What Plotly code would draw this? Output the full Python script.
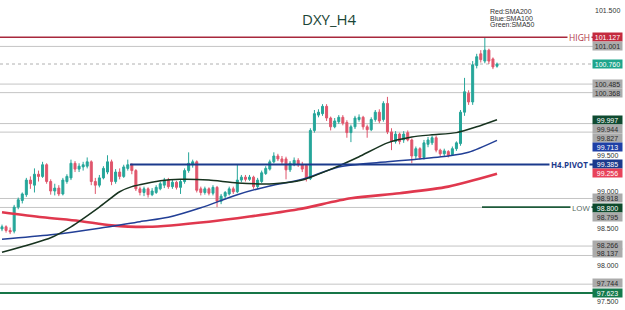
import plotly.graph_objects as go

# ---------------- data ----------------
opens = [98.50, 98.53, 98.48, 98.47, 98.80, 98.89, 98.97, 99.17, 99.10, 99.25,
         99.22, 99.38, 99.15, 99.02, 99.06, 98.98, 99.15, 99.20, 99.40, 99.32,
         99.35, 99.36, 99.42, 99.15, 99.10, 99.20, 99.28, 99.42, 99.15, 99.28,
         99.22, 99.33, 99.38, 99.30, 99.05, 99.00, 99.05, 98.97, 99.00, 99.05,
         99.10, 99.17, 99.08, 99.14, 99.07, 99.15, 99.30, 99.38, 99.42, 99.05,
         99.00, 99.05, 98.99, 99.07, 98.88, 98.95, 98.98, 99.05, 99.01, 99.17,
         99.21, 99.18, 99.21, 99.08, 99.15, 99.26, 99.32, 99.42, 99.50, 99.46,
         99.46, 99.31, 99.38, 99.44, 99.38, 99.37, 99.19, 99.85, 100.06, 100.08,
         100.18, 100.02, 99.90, 99.97, 100.03, 99.96, 99.82, 99.90, 100.00, 100.03,
         99.90, 99.86, 100.00, 100.10, 100.00, 100.22, 99.83, 99.70, 99.80, 99.72,
         99.82, 99.72, 99.50, 99.60, 99.48, 99.66, 99.68, 99.75, 99.58, 99.53,
         99.56, 99.52, 99.60, 99.67, 100.10, 100.36, 100.24, 100.74, 100.90, 100.80,
         100.95, 100.83, 100.73]
highs = [98.56, 98.55, 98.52, 98.83, 98.93, 99.00, 99.20, 99.22, 99.33, 99.30,
         99.42, 99.40, 99.18, 99.12, 99.10, 99.20, 99.25, 99.45, 99.43, 99.40,
         99.42, 99.48, 99.44, 99.20, 99.24, 99.36, 99.51, 99.45, 99.32, 99.33,
         99.38, 99.45, 99.40, 99.32, 99.08, 99.08, 99.07, 99.06, 99.10, 99.15,
         99.20, 99.20, 99.17, 99.16, 99.18, 99.33, 99.55, 99.45, 99.44, 99.08,
         99.08, 99.07, 99.10, 99.09, 98.98, 99.02, 99.08, 99.08, 99.38, 99.24,
         99.24, 99.24, 99.23, 99.20, 99.30, 99.36, 99.45, 99.55, 99.53, 99.50,
         99.49, 99.43, 99.48, 99.47, 99.42, 99.39, 99.88, 100.13, 100.14, 100.21,
         100.21, 100.04, 100.02, 100.06, 100.06, 99.99, 99.93, 100.05, 100.07, 100.05,
         99.93, 100.03, 100.13, 100.14, 100.25, 100.31, 99.88, 99.84, 99.82, 99.84,
         99.85, 99.74, 99.63, 99.62, 99.72, 99.76, 99.78, 99.78, 99.60, 99.60,
         99.58, 99.63, 99.70, 100.13, 100.57, 100.40, 100.80, 100.90, 100.95, 101.127,
         100.97, 100.85, 100.78]
lows = [98.47, 98.45, 98.43, 98.44, 98.77, 98.85, 98.94, 99.05, 99.00, 99.15,
        99.20, 99.12, 98.97, 98.96, 98.95, 98.96, 99.12, 99.17, 99.28, 99.28,
        99.30, 99.33, 99.10, 98.98, 99.07, 99.18, 99.25, 99.10, 99.12, 99.18,
        99.20, 99.30, 99.25, 99.02, 98.96, 98.95, 98.93, 98.95, 98.98, 99.03,
        99.06, 99.05, 99.05, 99.04, 98.98, 99.12, 99.27, 99.34, 99.00, 98.96,
        98.97, 98.96, 98.96, 98.80, 98.84, 98.92, 98.96, 98.98, 98.99, 99.14,
        99.15, 99.16, 99.05, 99.05, 99.13, 99.24, 99.30, 99.40, 99.43, 99.39,
        99.18, 99.28, 99.36, 99.35, 99.28, 99.15, 99.17, 99.82, 100.03, 100.05,
        99.98, 99.85, 99.88, 99.94, 99.92, 99.75, 99.69, 99.87, 99.97, 99.86,
        99.75, 99.84, 99.97, 99.95, 99.97, 99.80, 99.58, 99.67, 99.66, 99.68,
        99.70, 99.40, 99.46, 99.45, 99.45, 99.62, 99.65, 99.55, 99.50, 99.50,
        99.48, 99.50, 99.57, 99.64, 100.05, 100.20, 100.20, 100.70, 100.78, 100.77,
        100.76, 100.69, 100.71]
closes = [98.53, 98.48, 98.46, 98.80, 98.90, 98.98, 99.17, 99.12, 99.25, 99.22,
          99.38, 99.15, 99.02, 99.06, 98.98, 99.17, 99.22, 99.40, 99.32, 99.36,
          99.38, 99.42, 99.15, 99.10, 99.20, 99.33, 99.42, 99.15, 99.28, 99.22,
          99.35, 99.38, 99.30, 99.05, 99.00, 99.05, 98.97, 99.02, 99.07, 99.12,
          99.17, 99.08, 99.14, 99.07, 99.15, 99.30, 99.40, 99.42, 99.03, 99.00,
          99.05, 98.99, 99.07, 98.88, 98.95, 99.00, 99.05, 99.01, 99.17, 99.21,
          99.18, 99.21, 99.08, 99.17, 99.27, 99.33, 99.42, 99.50, 99.46, 99.42,
          99.31, 99.40, 99.44, 99.38, 99.32, 99.19, 99.85, 100.08, 100.10, 100.18,
          100.02, 99.90, 99.98, 100.03, 99.95, 99.82, 99.90, 100.02, 100.03, 99.90,
          99.86, 100.00, 100.10, 99.98, 100.22, 99.83, 99.70, 99.80, 99.70, 99.80,
          99.72, 99.50, 99.60, 99.48, 99.68, 99.72, 99.75, 99.58, 99.53, 99.57,
          99.51, 99.60, 99.68, 100.10, 100.38, 100.24, 100.75, 100.86, 100.82, 100.95,
          100.80, 100.72, 100.76]

sma50_x = [0, 12, 17, 24, 29, 32, 39, 44, 51, 58, 67, 74, 82, 88, 95, 101, 106, 112, 117, 122]
sma50_y = [98.18, 98.38, 98.53, 98.80, 99.01, 99.08, 99.16, 99.18, 99.17, 99.13, 99.12,
           99.17, 99.34, 99.49, 99.68, 99.76, 99.79, 99.82, 99.90, 99.997]
sma100_x = [0, 12, 24, 34, 41, 49, 58, 66, 74, 83, 95, 101, 110, 115, 122]
sma100_y = [98.36, 98.42, 98.51, 98.60, 98.66, 98.79, 98.97, 99.09, 99.18, 99.35, 99.42,
            99.45, 99.50, 99.55, 99.713]
sma200_x = [0, 10, 19, 27, 36, 51, 61, 73, 86, 98, 110, 122]
sma200_y = [98.73, 98.66, 98.61, 98.55, 98.53, 98.60, 98.67, 98.77, 98.92, 98.99,
            99.08, 99.256]

level_values = [101.001, 100.485, 100.368, 99.944, 99.827, 98.918, 98.795, 98.266, 98.137, 97.744]
high_level = 101.127
low_level = 98.800
pivot_level = 99.385
last_price = 100.760
bottom_level = 97.623
tick_values = [101.500, 99.500, 99.000, 98.500, 98.000, 97.500]

title_text = "DXY_H4"
legend_lines = ["Red:SMA200", "Blue:SMA100", "Green:SMA50"]

# ---------------- figure ----------------
W, H = 625, 310
fig = go.Figure()

fig.add_trace(go.Candlestick(
    x=list(range(len(closes))), open=opens, high=highs, low=lows, close=closes,
    increasing=dict(line=dict(color="#26a69a", width=1), fillcolor="#26a69a"),
    decreasing=dict(line=dict(color="#e0566c", width=1), fillcolor="#e0566c"),
    whiskerwidth=0, showlegend=False, hoverinfo="skip"))

fig.add_trace(go.Scatter(x=sma200_x, y=sma200_y, mode="lines",
                         line=dict(color="#e0384e", width=2.6, shape="spline", smoothing=0.8),
                         showlegend=False))
fig.add_trace(go.Scatter(x=sma100_x, y=sma100_y, mode="lines",
                         line=dict(color="#223f96", width=1.5, shape="spline", smoothing=0.8),
                         showlegend=False))
fig.add_trace(go.Scatter(x=sma50_x, y=sma50_y, mode="lines",
                         line=dict(color="#17331f", width=1.5, shape="spline", smoothing=0.6),
                         showlegend=False))

END = 593 / W  # lines run up to the label column

shapes = []
for v in level_values:
    shapes.append(dict(type="line", xref="paper", yref="y", x0=0, x1=END, y0=v, y1=v,
                       line=dict(color="#c4c4c4", width=1), layer="below"))
shapes.append(dict(type="line", xref="paper", yref="y", x0=0, x1=END, y0=last_price, y1=last_price,
                   line=dict(color="#b0b0b0", width=1, dash="dot"), layer="below"))
shapes.append(dict(type="line", xref="paper", yref="y", x0=0, x1=END, y0=high_level, y1=high_level,
                   line=dict(color="#a8283c", width=1.6)))
shapes.append(dict(type="line", xref="paper", yref="y", x0=130 / W, x1=END, y0=pivot_level, y1=pivot_level,
                   line=dict(color="#1b3a8c", width=2)))
shapes.append(dict(type="line", xref="paper", yref="y", x0=482 / W, x1=END, y0=low_level, y1=low_level,
                   line=dict(color="#1e5a3a", width=1.6)))
shapes.append(dict(type="line", xref="paper", yref="y", x0=0, x1=END, y0=bottom_level, y1=bottom_level,
                   line=dict(color="#177547", width=2)))

annotations = []
# line labels with white background
annotations.append(dict(xref="paper", yref="y", x=579.5 / W, y=high_level, text="HIGH", showarrow=False,
                        font=dict(family="Open Sans", size=8.5, color="#b03246"), bgcolor="white",
                        borderpad=1, xanchor="center", yanchor="middle"))
annotations.append(dict(xref="paper", yref="y", x=569 / W, y=pivot_level, text="<b>H4.PIVOT</b>", showarrow=False,
                        font=dict(family="Open Sans", size=8, color="#1b3a8c"), bgcolor="white",
                        borderpad=1, xanchor="center", yanchor="middle"))
annotations.append(dict(xref="paper", yref="y", x=581 / W, y=low_level, text="LOW", showarrow=False,
                        font=dict(family="Open Sans", size=8, color="#51665a"), bgcolor="white",
                        borderpad=1, xanchor="center", yanchor="middle"))

# right-hand price boxes: (value, background, text colour, vertical nudge)
GRAY = "#ababab"
boxes = [
    (101.127, "#c42a3e", "white", 0),
    (101.001, GRAY, "#2a2a2a", 0),
    (100.760, "#1fa58c", "white", 0),
    (100.485, GRAY, "#2a2a2a", 0),
    (100.368, GRAY, "#2a2a2a", 0),
    (99.997, "#0f4a30", "white", 0),
    (99.944, GRAY, "#2a2a2a", -5),
    (99.827, GRAY, "#2a2a2a", -5.5),
    (99.713, "#1f40a6", "white", -6.5),
    (99.385, "#1b3a8c", "white", 0),
    (99.256, "#e8425a", "white", 1),
    (98.918, GRAY, "#2a2a2a", 0),
    (98.800, "#0e4a2c", "white", -1),
    (98.795, GRAY, "#2a2a2a", -9.5),
    (98.266, GRAY, "#2a2a2a", 1),
    (98.137, GRAY, "#2a2a2a", 2),
    (97.744, GRAY, "#2a2a2a", 1),
    (97.623, "#147a4c", "white", 0),
]
for v, bg, fc, dy in boxes:
    annotations.append(dict(xref="paper", yref="y", x=607.5 / W, y=v, yshift=dy,
                            text=f"{v:.3f}", showarrow=False, bgcolor=bg,
                            font=dict(family="Liberation Sans", size=7, color=fc),
                            width=29, height=8, borderpad=0, xanchor="center", yanchor="middle"))
tick_shift = {99.500: 0.5, 99.000: 1}
for v in tick_values:
    annotations.append(dict(xref="paper", yref="y", x=607.5 / W, y=v, yshift=tick_shift.get(v, 0),
                            text=f"{v:.3f}", showarrow=False,
                            font=dict(family="Liberation Sans", size=7, color="#333333"),
                            xanchor="center", yanchor="middle"))

# title and legend text
annotations.append(dict(xref="paper", yref="paper", x=329.5 / W, y=1 - 19 / H, text=title_text,
                        showarrow=False, font=dict(family="Open Sans", size=15, color="#1a4536"),
                        xanchor="center", yanchor="middle"))
for k, t in enumerate(legend_lines):
    annotations.append(dict(xref="paper", yref="paper", x=488 / W, y=1 - (11.7 + 6.3 * k) / H, text=t,
                            showarrow=False, font=dict(family="Liberation Sans Narrow, Liberation Sans", size=7, color="#333333"),
                            xanchor="left", yanchor="middle"))

px_per_candle = 495 / 122
x0 = -2 / px_per_candle
x1 = x0 + W / px_per_candle

fig.update_layout(
    width=W, height=H, margin=dict(l=0, r=0, t=0, b=0),
    paper_bgcolor="white", plot_bgcolor="white",
    xaxis=dict(range=[x0, x1], visible=False, rangeslider=dict(visible=False), fixedrange=True),
    yaxis=dict(range=[97.390, 101.637], visible=False, fixedrange=True),
    shapes=shapes, annotations=annotations, showlegend=False,
)

fig.write_html("out.html")
